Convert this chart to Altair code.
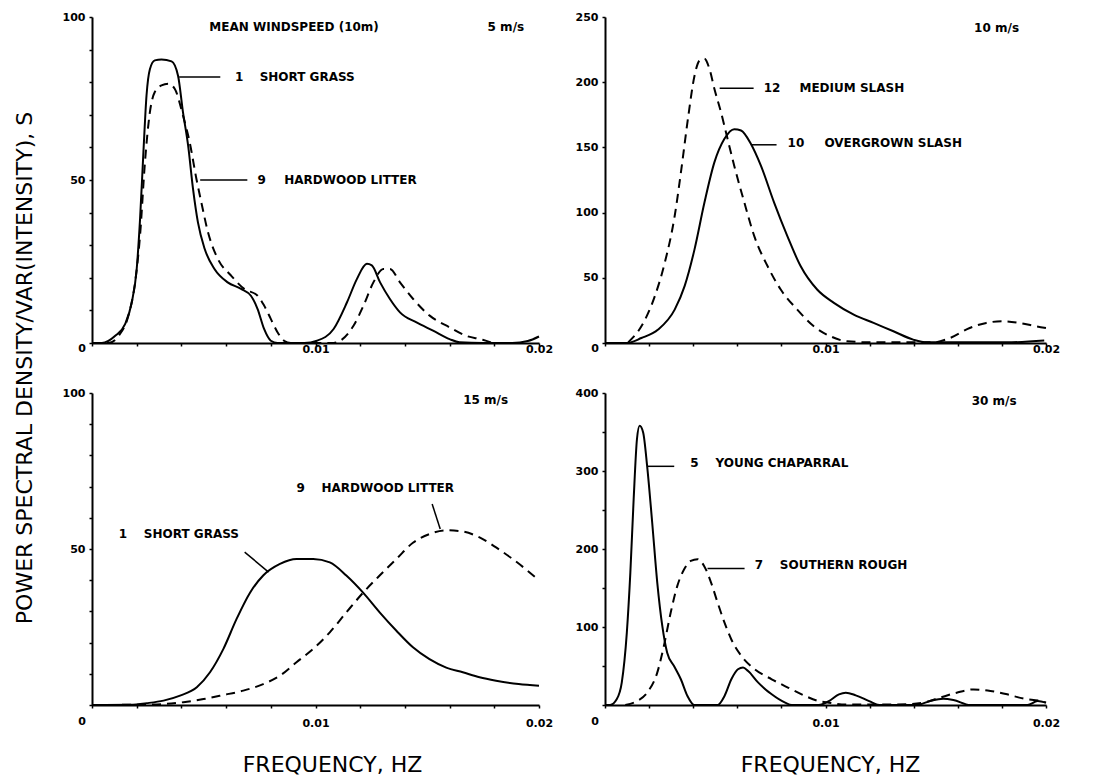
import altair as alt
import pandas as pd

FONT = "DejaVu Sans"

# ---------- Panel A: 5 m/s ----------
a_grass_f = [0, 0.00044, 0.00104, 0.00148, 0.00178, 0.0020, 0.00215, 0.0023, 0.00244, 0.00259,
             0.00281, 0.00311, 0.00356, 0.00385, 0.00407, 0.0043, 0.00452, 0.00474, 0.00504, 0.00548,
             0.00607, 0.00667, 0.00711, 0.00741, 0.0077, 0.008, 0.0083, 0.0095, 0.01007, 0.01081,
             0.01141, 0.01185, 0.0123, 0.01252, 0.01289, 0.01333, 0.01378, 0.01452, 0.01526, 0.016,
             0.01644, 0.0175, 0.0188, 0.0195, 0.02]
a_grass_s = [0, 0, 2.2, 5.8, 12.5, 22.7, 38, 58.5, 76, 84,
             86.7, 87, 86.4, 82, 70.8, 60.6, 47.3, 37, 28.9, 22.7,
             18.6, 16.6, 14.5, 10.4, 4.3, 0.7, 0, 0, 0.7, 4.3,
             12.5, 19.6, 24.3, 23.8, 18.6, 13.5, 9.4, 6.3, 3.8, 1.2,
             0.2, 0, 0, 0.6, 2]
a_litter_f = [0, 0.00074, 0.00119, 0.00163, 0.00193, 0.00215, 0.00237, 0.00259, 0.00281, 0.00311,
              0.00341, 0.0037, 0.00407, 0.00437, 0.00467, 0.00489, 0.00519, 0.00563, 0.00622, 0.00681,
              0.00741, 0.0077, 0.008, 0.0083, 0.00859, 0.00889, 0.01081, 0.01111, 0.0117, 0.01215,
              0.01259, 0.01304, 0.01333, 0.01378, 0.01437, 0.01511, 0.016, 0.01674, 0.01748, 0.01793]
a_litter_s = [0, 0, 2.2, 8.4, 18.6, 33, 55.5, 70.8, 77, 79,
              79.5, 78, 69.8, 61.6, 50.4, 43.2, 34, 25.8, 20.7, 16.6,
              14.5, 11.5, 7.4, 3.3, 0.7, 0, 0, 0.7, 5.3, 11.5,
              18.6, 22.7, 22.7, 18.6, 13.5, 8.4, 4.8, 2.2, 1, 0]
a_lab_t = ["MEAN WINDSPEED (10m)", "5 m/s", "1", "SHORT GRASS", "9", "HARDWOOD LITTER"]
a_lab_f = [0.00525, 0.0177, 0.0064, 0.0075, 0.0074, 0.0086]
a_lab_s = [97, 97, 81.6, 81.6, 50, 50]
a_rule_f = [0.0039, 0.00484]
a_rule_f2 = [0.00574, 0.00695]
a_rule_s = [81.6, 50]
a_rule_s2 = [81.6, 50]

# ---------- Panel B: 10 m/s ----------
b_over_f = [0, 0.00098, 0.00165, 0.00241, 0.00316, 0.00361, 0.00406, 0.00451, 0.00496, 0.00541,
            0.00586, 0.00617, 0.00662, 0.00707, 0.00767, 0.00827, 0.00887, 0.00962, 0.01038, 0.01128,
            0.01218, 0.01308, 0.01398, 0.01459, 0.01519, 0.01669, 0.0182, 0.01992]
b_over_s = [0, 0, 3.8, 10.3, 25.6, 43.6, 71.8, 107.7, 138.5, 156.4,
            164, 163, 152.6, 136, 107.7, 82, 59, 41, 30.8, 21.8,
            15.4, 9, 2.6, 0.5, 0.5, 0.5, 0.5, 2]
b_med_f = [0.00105, 0.00165, 0.00226, 0.00271, 0.00316, 0.00346, 0.00376, 0.00406, 0.00429, 0.00451,
           0.00474, 0.00496, 0.00526, 0.00556, 0.00586, 0.00632, 0.00677, 0.00737, 0.00797, 0.00872,
           0.00947, 0.01023, 0.01098, 0.01218, 0.01368, 0.01489, 0.01564, 0.01654, 0.01729, 0.01805,
           0.0188, 0.01955, 0.02]
b_med_s = [0.5, 12.8, 35.9, 61.5, 97.4, 133, 171.8, 205, 216.7, 218,
           210, 195, 177, 156.4, 136, 107.7, 82, 59, 41, 25.6,
           12.8, 5.1, 1.3, 0.5, 0.5, 0.5, 3.8, 11.5, 15.4, 16.7,
           15.4, 12.8, 11.5]
b_lab_t = ["10 m/s", "12", "MEDIUM SLASH", "10", "OVERGROWN SLASH"]
b_lab_f = [0.01674, 0.0072, 0.00882, 0.00828, 0.00995]
b_lab_s = [241.5, 195.4, 195.4, 153, 153]
b_rule_f = [0.0052, 0.00665]
b_rule_f2 = [0.00674, 0.00778]
b_rule_s = [195.4, 152]
b_rule_s2 = [195.4, 152]

# ---------- Panel C: 15 m/s ----------
c_grass_f = [0, 0.00171, 0.00246, 0.0032, 0.00394, 0.00469, 0.00528, 0.00588, 0.00647, 0.00707,
             0.00766, 0.00841, 0.00915, 0.0099, 0.01064, 0.01138, 0.01213, 0.01287, 0.01362, 0.01436,
             0.0151, 0.01585, 0.01659, 0.01734, 0.01808, 0.01909, 0.02]
c_grass_s = [0, 0.1, 0.6, 1.4, 3, 5.7, 10.5, 18, 27.6, 36,
             41.5, 45.2, 46.8, 46.8, 45.7, 41.5, 36, 29.7, 23.8, 18.5,
             14.7, 12, 10.5, 8.9, 7.8, 6.7, 6.2]
c_litter_f = [0, 0.00216, 0.0032, 0.00409, 0.00499, 0.00588, 0.00677, 0.00766, 0.00841, 0.00915,
              0.0099, 0.01064, 0.01138, 0.01213, 0.01287, 0.01362, 0.01436, 0.0151, 0.01585, 0.01659,
              0.01734, 0.01808, 0.01882, 0.02]
c_litter_s = [0, 0.1, 0.3, 0.9, 1.9, 3.2, 4.6, 6.7, 9.4, 13.7,
              18, 23.3, 29.7, 36, 41.5, 46.8, 52, 54.8, 56, 55.6,
              53.7, 50.5, 46.8, 40]
c_lab_t = ["15 m/s", "9", "HARDWOOD LITTER", "1", "SHORT GRASS"]
c_lab_f = [0.01661, 0.00915, 0.01027, 0.0012, 0.00232]
c_lab_s = [97.8, 69.6, 69.6, 54.8, 54.8]
c_rule_f = [0.01522, 0.00683]
c_rule_f2 = [0.01558, 0.0079]
c_rule_s = [64.4, 49]
c_rule_s2 = [56.4, 42.6]

# ---------- Panel D: 30 m/s ----------
d_chap_f = [0, 0.00023, 0.00053, 0.00076, 0.00099, 0.00115, 0.0013, 0.00145, 0.00157, 0.00173,
            0.00191, 0.00214, 0.00237, 0.0026, 0.00282, 0.00313, 0.00344, 0.00374, 0.00405, 0.00511,
            0.00542, 0.00573, 0.00603, 0.00626, 0.00649, 0.00695, 0.00756, 0.00817, 0.00847, 0.00969,
            0.01015, 0.01061, 0.01092, 0.01137, 0.01198, 0.01244, 0.01412, 0.01473, 0.01534, 0.0158,
            0.01656, 0.01916, 0.01962, 0.02]
d_chap_s = [0, 0, 7.3, 28.7, 92.8, 170, 264, 341, 358, 349.5,
            306.7, 234, 157, 101, 67, 50, 33, 11.5, 0, 0,
            11.5, 33, 45.8, 48, 43.6, 28.7, 13.7, 3, 0, 0,
            5, 13.7, 15.8, 12.4, 5, 0, 0, 5, 8, 6.4,
            0, 0, 5, 3]
d_rough_f = [0.00092, 0.00145, 0.00191, 0.00237, 0.00267, 0.00298, 0.00328, 0.00359, 0.00389, 0.0042,
             0.0045, 0.00481, 0.00511, 0.00542, 0.00573, 0.00618, 0.00679, 0.00756, 0.00832, 0.00908,
             0.00969, 0.01015, 0.01092, 0.01214, 0.01366, 0.01443, 0.01519, 0.01595, 0.01672, 0.01748,
             0.01824, 0.01901, 0.01977, 0.02]
d_rough_s = [0, 5, 15.8, 41.5, 75.7, 118.5, 152.7, 174, 184.8, 187,
             178, 157, 131, 105.6, 84, 63, 45.8, 33, 22, 11.5,
             5, 3, 0.5, 0.5, 1, 3, 9.4, 15.8, 20, 18,
             13.7, 8, 5, 3]
d_lab_t = ["30 m/s", "5", "YOUNG CHAPARRAL", "7", "SOUTHERN ROUGH"]
d_lab_f = [0.01663, 0.00387, 0.00501, 0.00679, 0.00793]
d_lab_s = [389.7, 310, 310, 180, 180]
d_rule_f = [0.00191, 0.00465]
d_rule_f2 = [0.00314, 0.00633]
d_rule_s = [306, 175]
d_rule_s2 = [306, 175]

x_ticks = [0, 0.002, 0.004, 0.006, 0.008, 0.01, 0.012, 0.014, 0.016, 0.018, 0.02]


def panel(solid_f, solid_s, dash_f, dash_s, lab_f, lab_s, lab_t,
          rf, rf2, rs, rs2, ymax, tick_step, label_step, width, height,
          xtitle, xlabel_pad, zero_dy, title_x=None):
    x_axis = dict(values=x_ticks,
                  labelExpr="datum.value == 0.01 ? '0.01' : (datum.value == 0.02 ? '0.02' : '')",
                  grid=False, domainColor="black", domainWidth=2, tickColor="black",
                  tickWidth=1.5, tickSize=3, labelFont=FONT, labelFontSize=11,
                  labelFontWeight="bold", labelColor="black", labelPadding=xlabel_pad,
                  labelFlush=False, labelOverlap=False)
    if xtitle:
        x_axis.update(title=xtitle, titleFont=FONT, titleFontSize=22,
                      titleFontWeight="normal", titleColor="black", titlePadding=26)
        if title_x is not None:
            x_axis.update(titleX=title_x)
    else:
        x_axis.update(title=None)
    y_axis = dict(values=list(range(0, ymax + 1, tick_step)),
                  labelExpr=f"datum.value > 0 && datum.value % {label_step} == 0 ? datum.label : ''",
                  grid=False, domainColor="black", domainWidth=2, tickColor="black",
                  tickWidth=1.5, tickSize=3, labelFont=FONT, labelFontSize=11,
                  labelFontWeight="bold", labelColor="black", labelPadding=4,
                  labelOverlap=False, title=None)
    xs = alt.Scale(domain=[0, 0.02], nice=False)
    ys = alt.Scale(domain=[0, ymax], nice=False)
    X = alt.X("f:Q", scale=xs, axis=alt.Axis(**x_axis))
    Y = alt.Y("S:Q", scale=ys, axis=alt.Axis(**y_axis))

    solid = alt.Chart(pd.DataFrame({"f": solid_f, "S": solid_s})).mark_line(
        color="black", strokeWidth=2, interpolate="monotone"
    ).encode(x=X, y=Y)
    dashed = alt.Chart(pd.DataFrame({"f": dash_f, "S": dash_s})).mark_line(
        color="black", strokeWidth=2, strokeDash=[9, 6], interpolate="monotone"
    ).encode(x=X, y=Y)
    labels = alt.Chart(pd.DataFrame({"f": lab_f, "S": lab_s, "t": lab_t})).mark_text(
        align="left", baseline="middle", font=FONT, fontSize=12, fontWeight="bold", color="black"
    ).encode(x=X, y=Y, text="t:N")
    rules = alt.Chart(pd.DataFrame({"f": rf, "f2": rf2, "S": rs, "S2": rs2})).mark_rule(
        color="black", strokeWidth=1.5
    ).encode(x=X, x2="f2:Q", y=Y, y2="S2:Q")
    zero = alt.Chart(pd.DataFrame({"f": [0], "S": [0], "t": ["0"]})).mark_text(
        align="center", baseline="middle", font=FONT, fontSize=11, fontWeight="bold",
        color="black", dx=-10, dy=zero_dy
    ).encode(x=X, y=Y, text="t:N")
    return alt.layer(solid, dashed, rules, labels, zero).properties(width=width, height=height)


pA = panel(a_grass_f, a_grass_s, a_litter_f, a_litter_s, a_lab_f, a_lab_s, a_lab_t,
           a_rule_f, a_rule_f2, a_rule_s, a_rule_s2, 100, 10, 50, 447, 326, None, -3, 6)
pB = panel(b_over_f, b_over_s, b_med_f, b_med_s, b_lab_f, b_lab_s, b_lab_t,
           b_rule_f, b_rule_f2, b_rule_s, b_rule_s2, 250, 50, 50, 441, 326, None, -3, 6)
pC = panel(c_grass_f, c_grass_s, c_litter_f, c_litter_s, c_lab_f, c_lab_s, c_lab_t,
           c_rule_f, c_rule_f2, c_rule_s, c_rule_s2, 100, 10, 50, 447, 312,
           "FREQUENCY, HZ", 9, 17, 240)
pD = panel(d_chap_f, d_chap_s, d_rough_f, d_rough_s, d_lab_f, d_lab_s, d_lab_t,
           d_rule_f, d_rule_f2, d_rule_s, d_rule_s2, 400, 50, 100, 441, 312,
           "FREQUENCY, HZ", 9, 17, 225)

chart = alt.concat(pA, pB, pC, pD, columns=2, spacing={"row": 50, "column": 66},
                   bounds="flush").properties(
    title=alt.TitleParams(text="POWER SPECTRAL DENSITY/VAR(INTENSITY), S", orient="left",
                          anchor="middle", font=FONT, fontSize=22, fontWeight="normal",
                          color="black", offset=25, dx=25),
    padding={"left": 5, "top": 2, "right": 5, "bottom": 0},
    background="white",
).configure_view(stroke="transparent")

chart.save("out.html", embed_options={"renderer": "svg", "actions": False})
